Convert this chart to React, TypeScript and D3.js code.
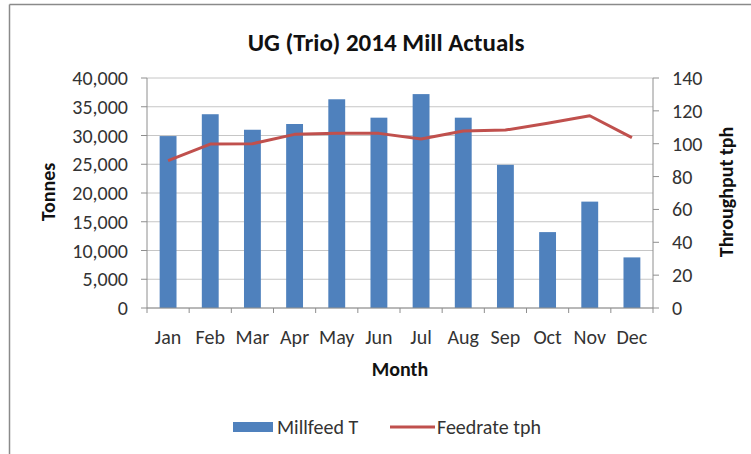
import React from "react";
import * as d3 from "d3";

const months = ["Jan", "Feb", "Mar", "Apr", "May", "Jun", "Jul", "Aug", "Sep", "Oct", "Nov", "Dec"];
const millfeedT = [29900, 33700, 31000, 32000, 36300, 33100, 37200, 33100, 24900, 13200, 18500, 8800];
const feedrateTph = [89.7, 99.8, 100, 105.7, 106.3, 106.3, 102.9, 107.7, 108.3, 112.4, 117, 103.7];
const leftTicks = [0, 5000, 10000, 15000, 20000, 25000, 30000, 35000, 40000];
const rightTicks = [0, 20, 40, 60, 80, 100, 120, 140];

const W = 751;
const H = 454;
const FONT = "Carlito, Calibri, 'Open Sans', sans-serif";
const BLUE = "#4F81BD";
const RED = "#C0504D";
const GRID = "#C6C6C6";
const AXIS = "#8E8E8E";
const TXT = "#333333";
const BOLD = "#111111";

export default function App() {
  const left = 147;
  const right = 653;
  const top = 78;
  const bottom = 308;

  const x = d3.scaleBand<string>().domain(months).range([left, right]).paddingInner(0.6).paddingOuter(0.3);
  const yL = d3.scaleLinear().domain([0, 40000]).range([bottom, top]);
  const yR = d3.scaleLinear().domain([0, 140]).range([bottom, top]);
  const fmt = d3.format(",");

  const line = d3
    .line<number>()
    .x((_, i) => (x(months[i]) as number) + x.bandwidth() / 2)
    .y((d) => yR(d));

  const step = x.step();
  const boundaries = d3.range(months.length + 1).map((i) => left + i * step);

  return (
    <svg
      width={W}
      height={H}
      style={{ position: "absolute", left: 0, top: 0, background: "#fff" }}
      fontFamily={FONT}
    >
      <rect x={0} y={0} width={W} height={H} fill="#fff" />
      <line x1={9.5} y1={4.5} x2={W} y2={4.5} stroke="#8a8a8a" strokeWidth={1.5} />
      <line x1={9.5} y1={4.5} x2={9.5} y2={H} stroke="#8a8a8a" strokeWidth={1.5} />

      <text x={386} y={42} dy="0.35em" textAnchor="middle" fontSize={25} fontWeight="bold" fill={BOLD}>
        UG (Trio) 2014 Mill Actuals
      </text>

      {leftTicks.map((t) => (
        <line key={"g" + t} x1={left} x2={right} y1={yL(t)} y2={yL(t)} stroke={GRID} strokeWidth={1} />
      ))}

      {months.map((m, i) => (
        <rect key={m} x={x(m)} y={yL(millfeedT[i])} width={x.bandwidth()} height={bottom - yL(millfeedT[i])} fill={BLUE} />
      ))}

      <path d={line(feedrateTph) || ""} fill="none" stroke={RED} strokeWidth={3} strokeLinejoin="round" />

      <line x1={left} x2={left} y1={top} y2={bottom} stroke={AXIS} />
      <line x1={right} x2={right} y1={top} y2={bottom} stroke={AXIS} />
      <line x1={left} x2={right} y1={bottom} y2={bottom} stroke={AXIS} />

      {leftTicks.map((t) => (
        <g key={"l" + t}>
          <line x1={left - 6} x2={left} y1={yL(t)} y2={yL(t)} stroke={AXIS} />
          <text x={128} y={yL(t)} dy="0.35em" textAnchor="end" fontSize={20} fill={TXT}>
            {fmt(t)}
          </text>
        </g>
      ))}

      {rightTicks.map((t) => (
        <g key={"r" + t}>
          <line x1={right} x2={right + 6} y1={yR(t)} y2={yR(t)} stroke={AXIS} />
          <text x={672} y={yR(t)} dy="0.35em" textAnchor="start" fontSize={20} fill={TXT}>
            {t}
          </text>
        </g>
      ))}

      {boundaries.map((b, i) => (
        <line key={"b" + i} x1={b} x2={b} y1={bottom} y2={bottom + 5} stroke={AXIS} />
      ))}

      {months.map((m) => (
        <text key={"m" + m} x={(x(m) as number) + x.bandwidth() / 2} y={337} dy="0.35em" textAnchor="middle" fontSize={20} fill={TXT}>
          {m}
        </text>
      ))}

      <text x={400} y={369} dy="0.35em" textAnchor="middle" fontSize={20} fontWeight="bold" fill={BOLD}>
        Month
      </text>

      <text transform={`translate(48,192) rotate(-90)`} dy="0.35em" textAnchor="middle" fontSize={20} fontWeight="bold" fill={BOLD}>
        Tonnes
      </text>

      <text transform={`translate(726,192) rotate(-90)`} dy="0.35em" textAnchor="middle" fontSize={20} fontWeight="bold" fill={BOLD}>
        Throughput tph
      </text>

      <rect x={233} y={422} width={40} height={10} fill={BLUE} />
      <text x={277} y={427} dy="0.35em" fontSize={20} fill={TXT}>
        Millfeed T
      </text>
      <line x1={390} x2={435} y1={427} y2={427} stroke={RED} strokeWidth={3} />
      <text x={437} y={427} dy="0.35em" fontSize={20} fill={TXT}>
        Feedrate tph
      </text>
    </svg>
  );
}
